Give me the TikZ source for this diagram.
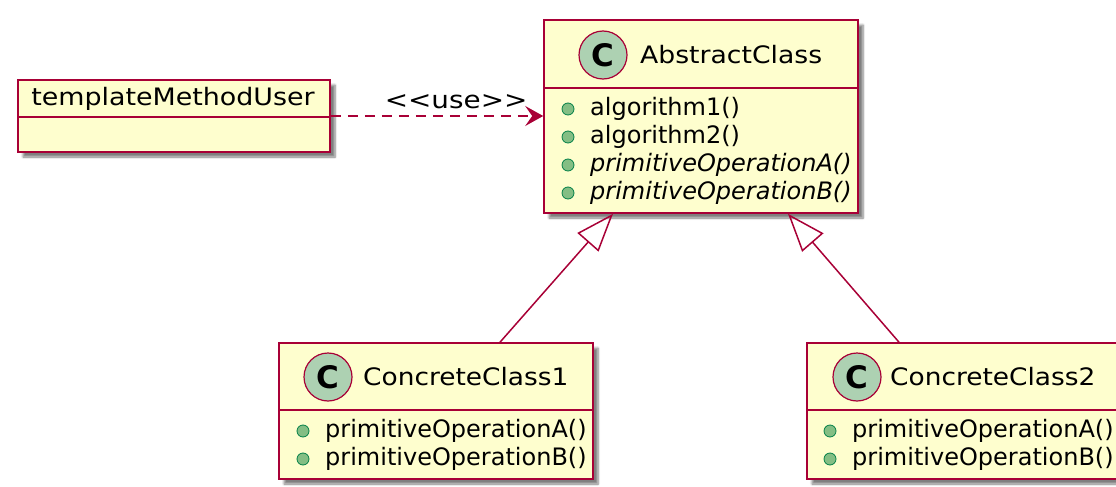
\documentclass[tikz,border=0pt]{standalone}
\usepackage{graphicx}
\usepackage{fontspec}
\setmainfont{DejaVu Sans}[Ligatures=TeXOff]
\usetikzlibrary{arrows.meta, positioning, calc, shadows.blur}
\definecolor{umlred}{HTML}{A80036}
\definecolor{umlfill}{HTML}{FEFECE}
\definecolor{circfill}{HTML}{ADD1B2}
\definecolor{dotfill}{HTML}{84BE84}
\definecolor{dotline}{HTML}{038048}
\newcommand{\wide}[2]{\scalebox{#1}[1]{#2}}
\tikzset{
  classbox/.style={draw=umlred, fill=umlfill, line width=1.6pt, inner sep=0pt,
    blur shadow={shadow xshift=5pt, shadow yshift=-5pt, shadow blur steps=6, shadow opacity=50}},
  sepline/.style={draw=umlred, line width=1.6pt},
  classicon/.style={circle, draw=umlred, fill=circfill, line width=1.2pt, minimum size=48pt,
    inner sep=0pt, font=\fontsize{31}{31}\selectfont\bfseries},
  classname/.style={anchor=west, inner sep=0pt},
  memdot/.style={circle, draw=dotline, fill=dotfill, line width=0.8pt, minimum size=12pt, inner sep=0pt},
  member/.style={anchor=west, inner sep=0pt},
  inherit/.style={draw=umlred, line width=1.5pt, -{Triangle[open, length=38pt, width=28pt]}},
  usearrow/.style={draw=umlred, line width=1.5pt, dash pattern=on 10pt off 7pt,
    -{Stealth[length=18pt, width=20pt, inset=7pt]}}
}
\begin{document}
\begin{tikzpicture}[x=1pt, y=-1pt, font=\fontsize{24}{28}\selectfont]
    \useasboundingbox (0,0) rectangle (1116,487);
    % user of the template method
    \node[classbox, minimum width=312pt, minimum height=72pt] (tmu) at (174,116) {};
    \draw[sepline] ($(tmu.north west)+(0,38)$) -- ($(tmu.north east)+(0,38)$);
    \node (tmuname) at (173,99) {\wide{1.12}{templateMethodUser}};
    % abstract class
    \node[classbox, minimum width=314pt, minimum height=193pt] (abs) at (701,116.5) {};
    \draw[sepline] ($(abs.north west)+(0,69)$) -- ($(abs.north east)+(0,69)$);
    \node[classicon] (absicon) at (603,55) {C};
    \node[classname] (absname) at (640,55) {\wide{1.11}{AbstractClass}};
    \foreach \y/\m [count=\i] in {109/algorithm1(), 137/algorithm2(),
        165/\textit{primitiveOperationA()}, 193/\textit{primitiveOperationB()}} {
        \node[memdot] (absdot\i) at (568,\y) {};
        \node[member] (absm\i) at (590,\y) {\m};
    }
    % concrete classes
    \node[classbox, minimum width=314pt, minimum height=136pt] (cc1) at (436,411) {};
    \draw[sepline] ($(cc1.north west)+(0,68)$) -- ($(cc1.north east)+(0,68)$);
    \node[classicon] (cc1icon) at (328,377) {C};
    \node[classname] (cc1name) at (363,377) {\wide{1.1}{ConcreteClass1}};
    \node[classbox, minimum width=314pt, minimum height=136pt] (cc2) at (964,411) {};
    \draw[sepline] ($(cc2.north west)+(0,68)$) -- ($(cc2.north east)+(0,68)$);
    \node[classicon] (cc2icon) at (857,377) {C};
    \node[classname] (cc2name) at (890,377) {\wide{1.1}{ConcreteClass2}};
    \foreach \y/\m [count=\i] in {431/primitiveOperationA(), 459/primitiveOperationB()} {
        \node[memdot] (cc1dot\i) at (303,\y) {};
        \node[member] (cc1m\i) at (325,\y) {\m};
        \node[memdot] (cc2dot\i) at (830,\y) {};
        \node[member] (cc2m\i) at (852,\y) {\m};
    }
    % relations
    \draw[usearrow] (tmu.east) -- (tmu.east -| abs.west)
        node[pos=0.59, anchor=base, yshift=8pt, inner sep=0pt] (uselbl) {\wide{1.16}{<<use>>}};
    \draw[inherit] ([xshift=64pt]cc1.north) -- ([xshift=-88pt]abs.south);
    \draw[inherit] ([xshift=-65pt]cc2.north) -- ([xshift=87pt]abs.south);
\end{tikzpicture}
\end{document}
